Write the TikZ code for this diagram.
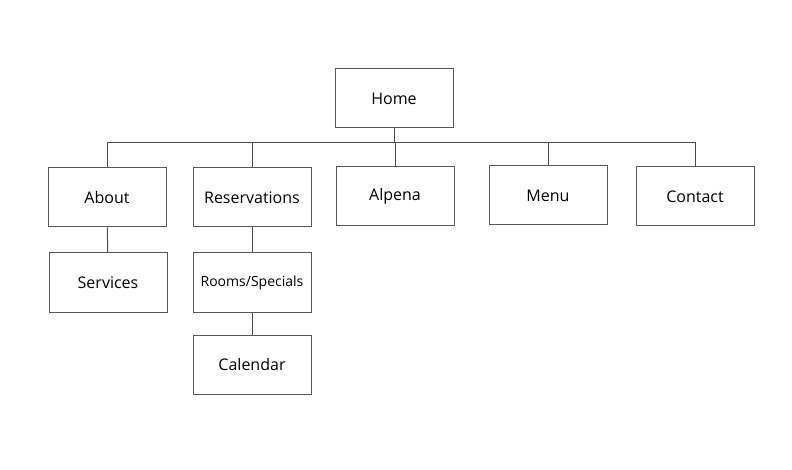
\documentclass[tikz,border=0pt]{standalone}
\usepackage{fontspec}
\setmainfont{Open Sans}
\begin{document}
\begin{tikzpicture}[x=1pt, y=-1pt,
    page/.style={draw=black!65, line width=1pt, minimum width=118pt, minimum height=59pt, inner sep=2pt, font=\fontsize{16}{18}\selectfont},
    link/.style={draw=black!70, line width=1pt}]
    \useasboundingbox (0,0) rectangle (792,470);

    % Top level
    \node[page] (home) at (394,98.5) {Home};

    % Second level
    \node[page] (about) at (107,197.5) {About};
    \node[page] (reserv) at (252,197.5) {Reservations};
    \node[page] (alpena) at (395,196.5) {Alpena};
    \node[page] (menu) at (548,195.5) {Menu};
    \node[page] (contact) at (695,196.5) {Contact};

    % Third level
    \node[page] (services) at (108,282.5) {Services};
    \node[page, font=\fontsize{14}{16}\selectfont] (rooms) at (252,282.5) {Rooms/Specials};
    \node[page] (calendar) at (252,364.5) {Calendar};

    % Bus line
    \coordinate (bus) at (0,143);
    \draw[link] (home.south) -- (home.south |- bus);
    \draw[link] (about.north) -- (about.north |- bus) -- (contact.north |- bus) -- (contact.north);
    \foreach \n in {reserv, alpena, menu}
        \draw[link] (\n.north) -- (\n.north |- bus);

    % Sub pages
    \draw[link] (about) -- (services);
    \draw[link] (reserv) -- (rooms);
    \draw[link] (rooms) -- (calendar);
\end{tikzpicture}
\end{document}
